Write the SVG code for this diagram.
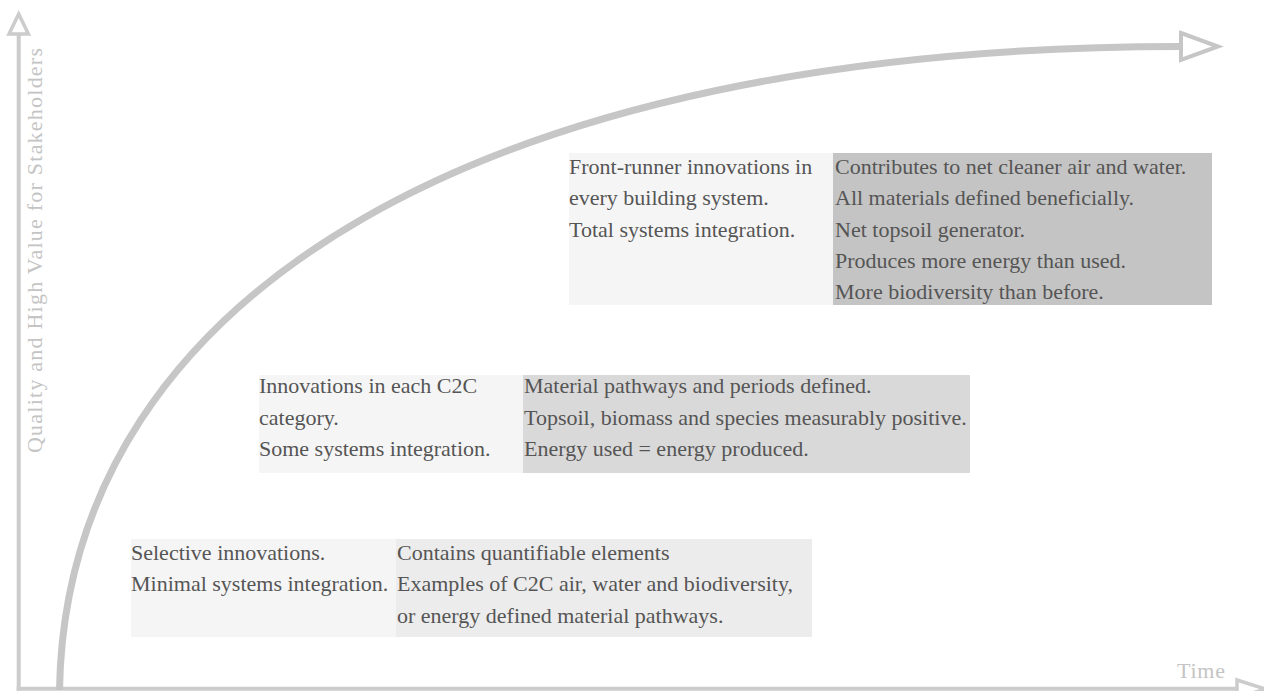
<svg xmlns="http://www.w3.org/2000/svg" width="1264" height="691" viewBox="0 0 1264 691">
  <style>
    .axis { fill: none; stroke: #cccccc; stroke-width: 4; }
    .head { fill: #ffffff; stroke: #cccccc; stroke-width: 3.5; stroke-linejoin: miter; }
    .curve { fill: none; stroke: #c6c6c6; stroke-width: 7; }
    .chead { fill: #ffffff; stroke: #c6c6c6; stroke-width: 4; stroke-linejoin: miter; }
    .lbl { font-family: "Liberation Serif", "Times New Roman", serif; font-size: 22px; fill: #c4c4c4; }
    .txt { font-family: "Liberation Serif", "Times New Roman", serif; font-size: 22px; fill: #555555; }
    .light { fill: #f5f5f5; }
    .dark3 { fill: #c4c4c4; }
    .dark2 { fill: #d9d9d9; }
    .dark1 { fill: #ececec; }
  </style>
  <rect width="1264" height="691" fill="#ffffff"/>

  <g id="axes">
    <line class="axis" x1="18.7" y1="34" x2="18.7" y2="690.7"/>
    <polygon class="head" points="18.7,14 9,34 28.4,34"/>
    <line class="axis" x1="16.7" y1="688.7" x2="1237" y2="688.7"/>
    <polygon class="head" points="1237,680 1265,689 1237,698"/>
    <text class="lbl" transform="translate(42,453) rotate(-90)" textLength="405" lengthAdjust="spacing">Quality and High Value for Stakeholders</text>
    <text class="lbl" x="1177" y="678" textLength="48" lengthAdjust="spacing">Time</text>
  </g>

  <g id="node-top">
    <rect class="light" x="569" y="153" width="264" height="152"/>
    <rect class="dark3" x="833" y="153" width="379" height="152"/>
    <text class="txt" x="569" y="174">Front-runner innovations in</text>
    <text class="txt" x="569" y="205.3">every building system.</text>
    <text class="txt" x="569" y="236.6">Total systems integration.</text>
    <text class="txt" x="835" y="174">Contributes to net cleaner air and water.</text>
    <text class="txt" x="835" y="205.3">All materials defined beneficially.</text>
    <text class="txt" x="835" y="236.6">Net topsoil generator.</text>
    <text class="txt" x="835" y="267.9">Produces more energy than used.</text>
    <text class="txt" x="835" y="299.2">More biodiversity than before.</text>
  </g>

  <g id="node-middle">
    <rect class="light" x="259" y="375" width="264" height="98"/>
    <rect class="dark2" x="523" y="375" width="447" height="98"/>
    <text class="txt" x="259" y="393.3">Innovations in each C2C</text>
    <text class="txt" x="259" y="424.5">category.</text>
    <text class="txt" x="259" y="455.8">Some systems integration.</text>
    <text class="txt" x="524" y="393.3">Material pathways and periods defined.</text>
    <text class="txt" x="524" y="424.5">Topsoil, biomass and species measurably positive.</text>
    <text class="txt" x="524" y="455.8">Energy used = energy produced.</text>
  </g>

  <g id="node-bottom">
    <rect class="light" x="131" y="539" width="265" height="98"/>
    <rect class="dark1" x="396" y="539" width="416" height="98"/>
    <text class="txt" x="131" y="560">Selective innovations.</text>
    <text class="txt" x="131" y="591.3">Minimal systems integration.</text>
    <text class="txt" x="397" y="560">Contains quantifiable elements</text>
    <text class="txt" x="397" y="591.3">Examples of C2C air, water and biodiversity,</text>
    <text class="txt" x="397" y="622.6">or energy defined material pathways.</text>
  </g>

  <g id="connectors">
    <path class="curve" d="M59.5,690 C66,290 490,46.5 1181,46.5"/>
    <polygon class="chead" points="1181,33 1218,46.5 1181,60"/>
  </g>
</svg>
